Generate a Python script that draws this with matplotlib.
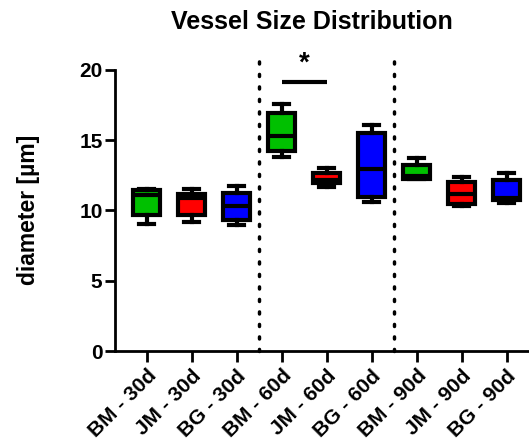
import matplotlib.pyplot as plt

plt.rcParams['font.family'] = ['Liberation Sans', 'DejaVu Sans']

# group labels and box summary values
labels = ['BM - 30d', 'JM - 30d', 'BG - 30d',
          'BM - 60d', 'JM - 60d', 'BG - 60d',
          'BM - 90d', 'JM - 90d', 'BG - 90d']
mins = [9.05, 9.15, 8.95, 13.8, 11.7, 10.6, 12.2, 10.3, 10.55]
q1s = [9.65, 9.65, 9.35, 14.2, 11.95, 10.95, 12.27, 10.45, 10.75]
meds = [11.1, 10.85, 10.3, 15.3, 12.15, 12.95, 12.45, 11.15, 10.9]
q3s = [11.45, 11.2, 11.25, 16.95, 12.65, 15.5, 13.25, 12.05, 12.15]
maxs = [11.5, 11.55, 11.75, 17.6, 13.0, 16.1, 13.75, 12.35, 12.65]
colors = ['#00C000', '#FF0000', '#0000FF'] * 3

stats = []
for i in range(len(labels)):
    stats.append(dict(label=labels[i], whislo=mins[i], q1=q1s[i], med=meds[i],
                      q3=q3s[i], whishi=maxs[i], fliers=[]))

fig = plt.figure(figsize=(5.29, 4.48), dpi=100)
ax = fig.add_axes([0.2174, 0.2165, 0.7826, 0.6496])

lw = 3
bp = ax.bxp(stats, positions=range(len(labels)), widths=0.6, patch_artist=True,
            showfliers=False, capwidths=0.33,
            boxprops=dict(linewidth=lw, edgecolor='black'),
            medianprops=dict(linewidth=lw, color='black', solid_capstyle='butt'),
            whiskerprops=dict(linewidth=lw, color='black'),
            capprops=dict(linewidth=lw, color='black'))
for patch, c in zip(bp['boxes'], colors):
    patch.set_facecolor(c)

# dotted separators between time points
for xs in [2.5, 5.5]:
    ax.plot([xs, xs], [0, 20.7], color='black', lw=2.5,
            linestyle=(0, (0.6, 3.0)), dash_capstyle='round', clip_on=False, zorder=0)

# significance marker
ax.plot([3, 4], [19.1, 19.1], color='black', lw=3, solid_capstyle='butt')
ax.text(3.5, 19.55, '*', ha='center', va='bottom', fontsize=20, fontweight='bold')

ax.set_xlim(-0.7, 8.5)
ax.set_ylim(0, 20.7)
ax.set_yticks([0, 5, 10, 15, 20])
ax.set_xticks(range(len(labels)))
ax.set_xticklabels(labels, rotation=45, ha='right', rotation_mode='anchor',
                   fontsize=15, fontweight='bold')
for t in ax.get_yticklabels():
    t.set_fontsize(15)
    t.set_fontweight('bold')

ax.spines['top'].set_visible(False)
ax.spines['right'].set_visible(False)
ax.spines['left'].set_bounds(0, 20)
ax.spines['left'].set_linewidth(2)
ax.spines['bottom'].set_linewidth(2)
ax.tick_params(axis='y', length=7.5, width=2, pad=1.5)
ax.tick_params(axis='x', length=8, width=2, pad=3)

ax.set_ylabel('diameter [µm]', fontsize=16.5, fontweight='bold')
ax.yaxis.set_label_coords(-0.181, 0.485)
fig.text(0.589, 0.95, 'Vessel Size Distribution', ha='center', va='center',
         fontsize=18, fontweight='bold')

fig.savefig('out.png', dpi=100)
